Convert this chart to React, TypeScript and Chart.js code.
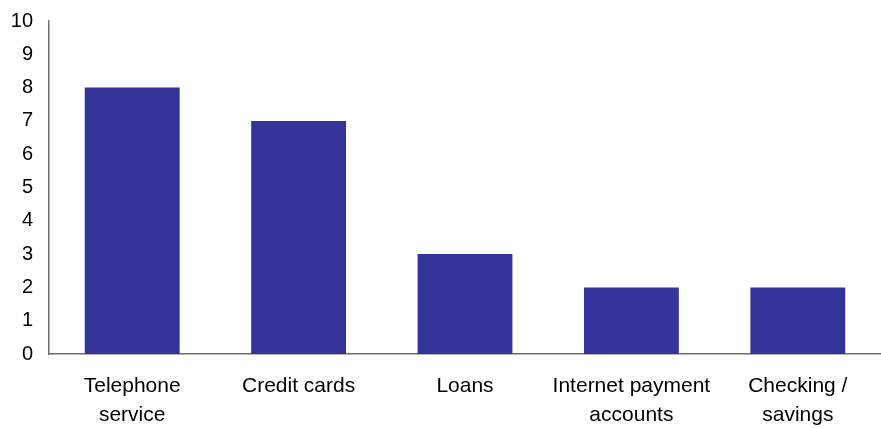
import React, { useEffect, useRef } from "react";
import { Chart, registerables } from "chart.js";

Chart.register(...registerables);

const categories: string[][] = [
  ["Telephone", "service"],
  ["Credit cards"],
  ["Loans"],
  ["Internet payment", "accounts"],
  ["Checking /", "savings"],
];
const values: number[] = [8, 7, 3, 2, 2];
const yMin = 0;
const yMax = 10;
const yStep = 1;

export default function App() {
  const ref = useRef<HTMLCanvasElement | null>(null);
  useEffect(() => {
    if (!ref.current) return;
    const chart = new Chart(ref.current, {
      type: "bar",
      data: {
        labels: categories,
        datasets: [
          {
            data: values,
            backgroundColor: "#333399",
            borderWidth: 0,
            barPercentage: 0.57,
            categoryPercentage: 1,
          },
        ],
      },
      options: {
        animation: false,
        responsive: false,
        maintainAspectRatio: false,
        layout: { padding: { top: 21, right: 0, left: 0, bottom: 0 } },
        plugins: { legend: { display: false }, tooltip: { enabled: false } },
        scales: {
          x: {
            grid: { display: false, drawTicks: false },
            border: { display: true, color: "#6e6e6e", width: 1.5 },
            ticks: {
              color: "#000",
              padding: 18,
              maxRotation: 0,
              autoSkip: false,
              font: { family: "'Liberation Sans', Arial, sans-serif", size: 21, lineHeight: "29px" },
            },
            afterFit: (s: any) => {
              s.height = 74;
              s.paddingLeft = 0;
              s.paddingRight = 0;
            },
          },
          y: {
            min: yMin,
            max: yMax,
            grid: { display: false, drawTicks: false },
            border: { display: true, color: "#6e6e6e", width: 1.5 },
            ticks: {
              stepSize: yStep,
              color: "#000",
              padding: 16,
              font: { family: "'Liberation Sans', Arial, sans-serif", size: 20 },
            },
            afterFit: (s: any) => {
              s.width = 49;
              s.paddingTop = 0;
              s.paddingBottom = 0;
            },
          },
        },
      },
    });
    return () => chart.destroy();
  }, []);
  return (
    <div style={{ position: "fixed", left: 0, top: 0, width: 881, height: 428 }}>
      <canvas ref={ref} width={881} height={428} style={{ width: 881, height: 428 }} />
    </div>
  );
}
